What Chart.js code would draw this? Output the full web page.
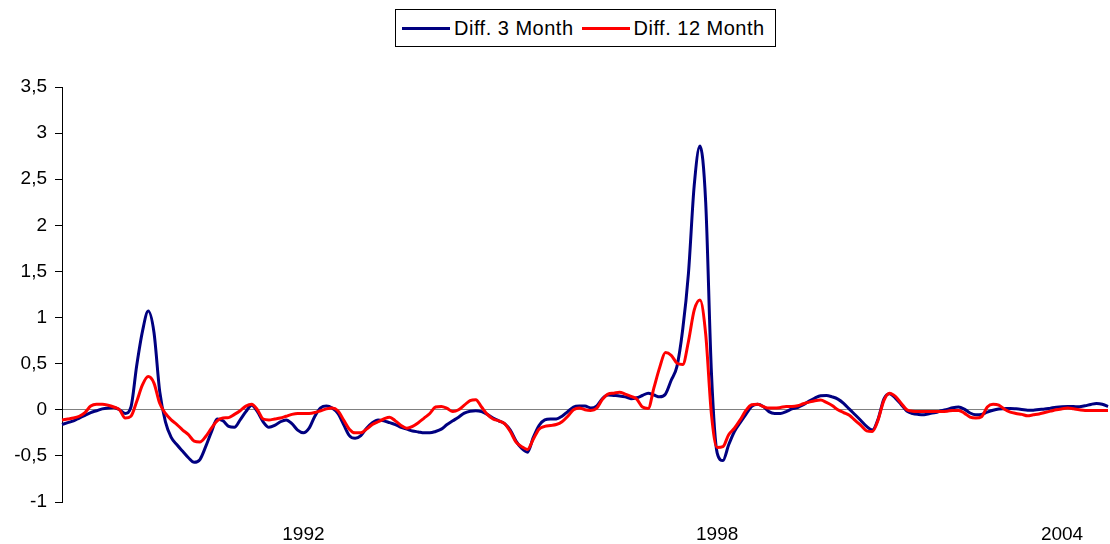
<!DOCTYPE html>
<html>
<head>
<meta charset="utf-8">
<script src="https://cdn.jsdelivr.net/npm/chart.js@4.4.1/dist/chart.umd.min.js"></script>
<style>
  body { margin: 0; background: #fff; }
  .wrap { position: relative; width: 1110px; height: 544px; }
  #legend {
    position: absolute; left: 395px; top: 9px; width: 381px; height: 38px;
    box-sizing: border-box; border: 1px solid #000; background: #fff;
    display: flex; align-items: center; padding-left: 6px;
    font-family: "Liberation Sans", Arial, sans-serif; font-size: 20px; letter-spacing: 0.5px;
  }
  #legend .line { display: inline-block; width: 48px; height: 3px; margin-right: 4px; }
  #legend .txt { margin-right: 8px; white-space: nowrap; }
</style>
</head>
<body>
<div class="wrap">
  <canvas id="myDiffChart" width="1110" height="544"></canvas>
  <div id="legend"></div>
</div>
<script>
// monthly observations, first one Jul 1988
const startYear = 1988;
const startMonth = 7;

const diff3m = [
  -0.16, -0.14, -0.12, -0.09, -0.06, -0.03, -0.01, 0.01, 0.02, 0.025,
  0.0, -0.04, 0.03, 0.48, 0.85, 1.07, 0.84, 0.2, -0.13, -0.30,
  -0.38, -0.45, -0.52, -0.57, -0.54, -0.40, -0.24, -0.10, -0.12, -0.18,
  -0.19, -0.11, -0.02, 0.05, -0.02, -0.13, -0.19, -0.17, -0.13, -0.11,
  -0.15, -0.22, -0.25, -0.20, -0.07, 0.02, 0.04, 0.02, -0.04, -0.16,
  -0.28, -0.31, -0.28, -0.20, -0.14, -0.11, -0.12, -0.14, -0.16, -0.19,
  -0.21, -0.23, -0.24, -0.25, -0.25, -0.235, -0.21, -0.16, -0.12, -0.08,
  -0.036, -0.015, -0.01, -0.02, -0.05, -0.09, -0.12, -0.15, -0.22, -0.34,
  -0.42, -0.46, -0.30, -0.17, -0.11, -0.10, -0.10, -0.07, -0.02, 0.03,
  0.04, 0.04, 0.02, 0.04, 0.12, 0.16, 0.155, 0.15, 0.14, 0.12,
  0.13, 0.155, 0.18, 0.16, 0.14, 0.17, 0.32, 0.47, 0.87, 1.48,
  2.43, 2.86, 2.25, 0.4, -0.47, -0.55, -0.38, -0.235, -0.14, -0.05,
  0.036, 0.06, 0.036, -0.02, -0.04, -0.04, -0.02, 0.01, 0.025, 0.054,
  0.094, 0.127, 0.152, 0.155, 0.14, 0.116, 0.07, 0.007, -0.054, -0.116,
  -0.18, -0.22, -0.10, 0.116, 0.174, 0.127, 0.058, -0.014, -0.04, -0.05,
  -0.054, -0.04, -0.03, -0.01, 0.004, 0.022, 0.03, 0.007, -0.035, -0.055,
  -0.05, -0.025, -0.005, 0.008, 0.012, 0.015, 0.01, 0.003, -0.005, -0.004,
  0.003, 0.008, 0.018, 0.028, 0.034, 0.036, 0.035, 0.033, 0.043, 0.058,
  0.068, 0.06, 0.035
];

const diff12m = [
  -0.11, -0.10, -0.09, -0.07, -0.03, 0.04, 0.06, 0.06, 0.05, 0.03,
  0.0, -0.09, -0.07, 0.09, 0.27, 0.36, 0.29, 0.07, -0.04, -0.11,
  -0.16, -0.22, -0.27, -0.34, -0.35, -0.29, -0.20, -0.12, -0.09, -0.085,
  -0.05, -0.01, 0.04, 0.06, 0.0, -0.10, -0.11, -0.10, -0.09, -0.07,
  -0.05, -0.04, -0.04, -0.04, -0.03, -0.01, 0.01, 0.02, -0.01, -0.11,
  -0.21, -0.25, -0.25, -0.21, -0.16, -0.13, -0.10, -0.08, -0.12, -0.17,
  -0.20, -0.18, -0.14, -0.09, -0.04, 0.03, 0.036, 0.015, -0.02, 0.0,
  0.05, 0.10, 0.11, 0.03, -0.05, -0.10, -0.12, -0.15, -0.235, -0.35,
  -0.40, -0.43, -0.32, -0.21, -0.18, -0.17, -0.16, -0.13, -0.07, 0.0,
  0.02, 0.0, -0.007, 0.015, 0.11, 0.17, 0.18, 0.19, 0.17, 0.145,
  0.116, 0.03, 0.015, 0.24, 0.46, 0.62, 0.59, 0.506, 0.49, 0.74,
  1.08, 1.19, 0.82, -0.05, -0.41, -0.40, -0.27, -0.20, -0.11, -0.007,
  0.054, 0.06, 0.036, 0.018, 0.018, 0.025, 0.036, 0.036, 0.043, 0.065,
  0.083, 0.098, 0.105, 0.08, 0.047, 0.0, -0.03, -0.06, -0.116, -0.17,
  -0.228, -0.235, -0.11, 0.10, 0.18, 0.145, 0.072, 0.0, -0.015, -0.018,
  -0.018, -0.018, -0.018, -0.018, -0.015, -0.007, -0.007, -0.036, -0.08, -0.09,
  -0.075, 0.03, 0.06, 0.05, 0.005, -0.025, -0.04, -0.05, -0.065, -0.055,
  -0.045, -0.03, -0.015, 0.0, 0.01, 0.018, 0.01, 0.0, -0.007, -0.007,
  -0.007, -0.007, -0.007
];

const seriesNames = ['Diff. 3 Month', 'Diff. 12 Month'];
const seriesColors = ['#000080', '#ff0000'];

// year labels on the category axis and the month they sit under
const yearLabels = ['1992', '1998', '2004'];
const yearLabelAt = [42, 114, 174];

const months = [];
for (let i = 0; i < diff3m.length; i++) {
  const m = startMonth - 1 + i;
  months.push((startYear + Math.floor(m / 12)) + '-' + String(m % 12 + 1).padStart(2, '0'));
}

Chart.defaults.font.family = '"Liberation Sans", Arial, sans-serif';
Chart.defaults.font.size = 19;
Chart.defaults.color = '#000';

const chart = new Chart(document.getElementById('myDiffChart'), {
  type: 'line',
  data: {
    labels: months,
    datasets: [{
      label: seriesNames[0],
      data: diff3m,
      borderColor: seriesColors[0],
      backgroundColor: seriesColors[0],
      borderWidth: 3,
      pointRadius: 0,
      cubicInterpolationMode: 'monotone',
      order: 2
    }, {
      label: seriesNames[1],
      data: diff12m,
      borderColor: seriesColors[1],
      backgroundColor: seriesColors[1],
      borderWidth: 3,
      pointRadius: 0,
      cubicInterpolationMode: 'monotone',
      order: 1
    }]
  },
  options: {
    responsive: false,
    animation: false,
    layout: {
      padding: { top: 87, right: 2, left: 0, bottom: 0 }
    },
    plugins: {
      legend: { display: false },
      tooltip: { enabled: false }
    },
    scales: {
      x: {
        // tick marks hidden, their length only pushes the year labels down
        grid: { display: false, drawTicks: true, tickLength: 21 },
        border: { display: false },
        ticks: {
          autoSkip: false,
          maxRotation: 0,
          minRotation: 0,
          padding: 0,
          callback: (v, i) => {
            const k = yearLabelAt.indexOf(i);
            return k >= 0 ? yearLabels[k] : '';
          }
        },
        afterFit: (s) => { s.height = 42; }
      },
      y: {
        min: -1,
        max: 3.5,
        grid: {
          color: (c) => (c.tick && c.tick.value === 0) ? '#808080' : 'rgba(0,0,0,0)',
          tickColor: '#000',
          tickLength: 7,
          lineWidth: 1
        },
        border: { color: '#000', width: 1 },
        ticks: {
          stepSize: 0.5,
          padding: 8,
          callback: (v) => String(v).replace('.', ',')
        },
        afterFit: (s) => { s.width = 62; }
      }
    }
  }
});

// boxed legend like the spreadsheet one
const legend = document.getElementById('legend');
chart.data.datasets.forEach((ds) => {
  const line = document.createElement('span');
  line.className = 'line';
  line.style.background = ds.borderColor;
  const txt = document.createElement('span');
  txt.className = 'txt';
  txt.textContent = ds.label;
  legend.appendChild(line);
  legend.appendChild(txt);
});
</script>
</body>
</html>
